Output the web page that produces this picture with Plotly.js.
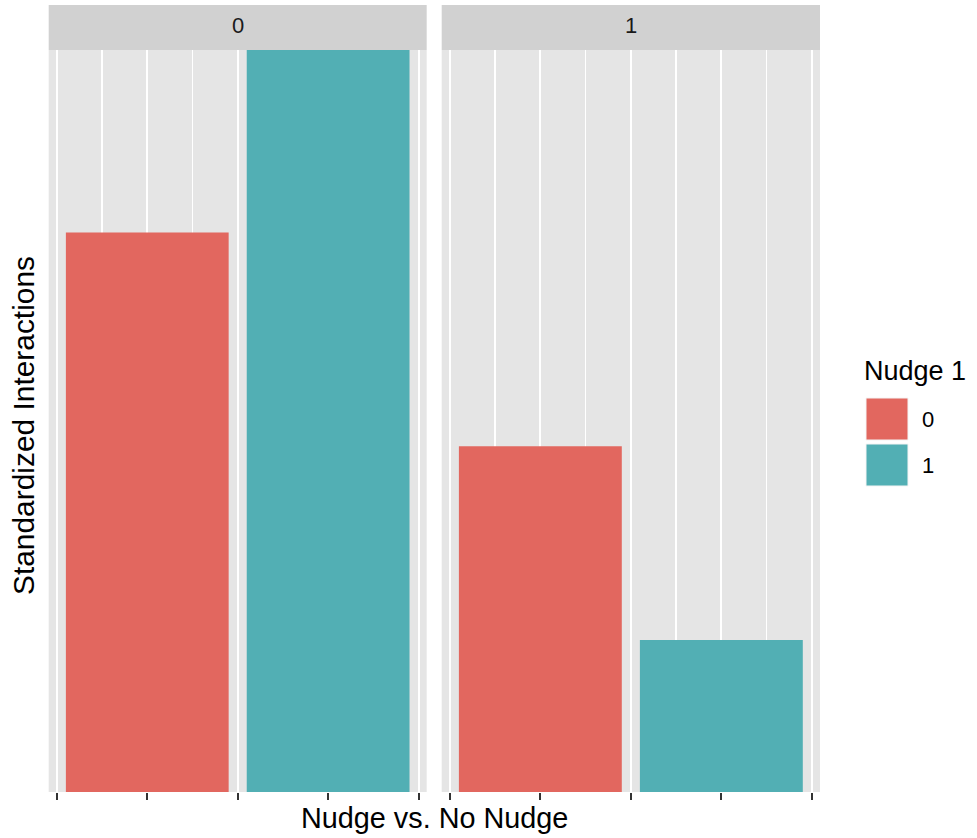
<!DOCTYPE html>
<html>
<head>
<meta charset="utf-8">
<script src="https://cdn.plot.ly/plotly-3.0.1.min.js"></script>
<style>
  html, body { margin: 0; padding: 0; background: #ffffff; }
  #chart { width: 977px; height: 838px; }
</style>
</head>
<body>
<div id="chart"></div>
<script>
// ---- Data ----
const facets = ['0', '1'];                 // facet strip labels
const nudgeLevels = [0, 1];                // x positions / fill groups ("Nudge 1")
const nudgeLabels = ['0', '1'];            // legend labels
const interactionsNudge0 = [0.754, 0.466]; // red bars, per facet
const interactionsNudge1 = [1.0, 0.205];   // teal bars, per facet
const barColors = ['#E2675F', '#52AFB4'];
const xTickVals = [-0.5, 0, 0.5, 1, 1.5];
const xMinorVals = [-0.25, 0.25, 0.75, 1.25];
const legendTitle = 'Nudge 1';
const xTitle = 'Nudge vs. No Nudge';
const yTitle = 'Standardized Interactions';

const seriesValues = [interactionsNudge0, interactionsNudge1];

// ---- Geometry (pixels -> paper) ----
const W = 977, H = 838;
const px = v => v / W;
const py = v => 1 - v / H;
const panelDomains = [[px(48.7), px(426.7)], [px(441.7), px(820)]];
const yDomain = [py(792), py(50)];
const FONT = 'Liberation Sans, Arial, Helvetica, sans-serif';

// ---- Traces ----
const traces = [];
facets.forEach((f, p) => {
  nudgeLevels.forEach((lvl, j) => {
    traces.push({
      type: 'bar',
      x: [lvl],
      y: [seriesValues[j][p]],
      width: 0.9,
      marker: { color: barColors[j], line: { width: 0 } },
      xaxis: p === 0 ? 'x' : 'x2',
      yaxis: p === 0 ? 'y' : 'y2',
      name: nudgeLabels[j],
      showlegend: false,
      hoverinfo: 'skip'
    });
  });
});

function xAxis(domain, anchor) {
  return {
    domain: domain,
    anchor: anchor,
    range: [-0.545, 1.545],
    tickmode: 'array',
    tickvals: xTickVals,
    showticklabels: false,
    ticks: 'outside',
    ticklen: 7,
    tickwidth: 2,
    tickcolor: '#333333',
    showgrid: true,
    gridcolor: '#ffffff',
    gridwidth: 2,
    zeroline: false,
    showline: false,
    fixedrange: true,
    minor: {
      tickmode: 'array',
      tickvals: xMinorVals,
      showgrid: true,
      gridcolor: '#ffffff',
      gridwidth: 1.4,
      ticks: ''
    }
  };
}
function yAxis(anchor) {
  return {
    domain: yDomain,
    anchor: anchor,
    range: [0, 1],
    showgrid: false,
    showticklabels: false,
    ticks: '',
    zeroline: false,
    showline: false,
    fixedrange: true
  };
}

// ---- Shapes & annotations (strips, legend) ----
const shapes = [];
const annotations = [];
facets.forEach((f, p) => {
  const d = panelDomains[p];
  shapes.push({
    type: 'rect', xref: 'paper', yref: 'paper',
    x0: d[0], x1: d[1], y0: py(50), y1: py(5),
    fillcolor: '#D1D1D1', line: { width: 0 }, layer: 'below'
  });
  annotations.push({
    xref: 'paper', yref: 'paper',
    x: (d[0] + d[1]) / 2, y: py(25.5),
    xanchor: 'center', yanchor: 'middle',
    text: f, showarrow: false,
    font: { family: FONT, size: 22, color: '#1A1A1A' }
  });
});

// axis titles
annotations.push({
  xref: 'paper', yref: 'paper',
  x: (panelDomains[0][0] + panelDomains[1][1]) / 2, y: py(817.5),
  xanchor: 'center', yanchor: 'middle',
  text: xTitle, showarrow: false,
  font: { family: FONT, size: 28.8, color: '#000000' }
});
annotations.push({
  xref: 'paper', yref: 'paper',
  x: px(23.5), y: py(425.5),
  xanchor: 'center', yanchor: 'middle',
  text: yTitle, showarrow: false, textangle: -90,
  font: { family: FONT, size: 29.9, color: '#000000' }
});

// legend
annotations.push({
  xref: 'paper', yref: 'paper',
  x: px(862), y: py(371),
  xanchor: 'left', yanchor: 'middle',
  text: legendTitle, showarrow: false,
  font: { family: FONT, size: 27, color: '#000000' }
});
const keyTop = [398, 444];
nudgeLabels.forEach((lab, j) => {
  shapes.push({
    type: 'rect', xref: 'paper', yref: 'paper',
    x0: px(866), x1: px(908), y0: py(keyTop[j] + 42), y1: py(keyTop[j]),
    fillcolor: barColors[j], line: { width: 1, color: '#F4F4F4' }
  });
  annotations.push({
    xref: 'paper', yref: 'paper',
    x: px(920), y: py(keyTop[j] + 21.5),
    xanchor: 'left', yanchor: 'middle',
    text: lab, showarrow: false,
    font: { family: FONT, size: 22, color: '#000000' }
  });
});

const layout = {
  width: W, height: H,
  margin: { l: 0, r: 0, t: 0, b: 0 },
  paper_bgcolor: '#ffffff',
  plot_bgcolor: '#E5E5E5',
  barmode: 'overlay',
  showlegend: false,
  xaxis: xAxis(panelDomains[0], 'y'),
  yaxis: yAxis('x'),
  xaxis2: xAxis(panelDomains[1], 'y2'),
  yaxis2: Object.assign(yAxis('x2'), { matches: 'y' }),
  shapes: shapes,
  annotations: annotations,
  font: { family: FONT }
};

Plotly.newPlot('chart', traces, layout, { displayModeBar: false, staticPlot: true });
</script>
</body>
</html>
